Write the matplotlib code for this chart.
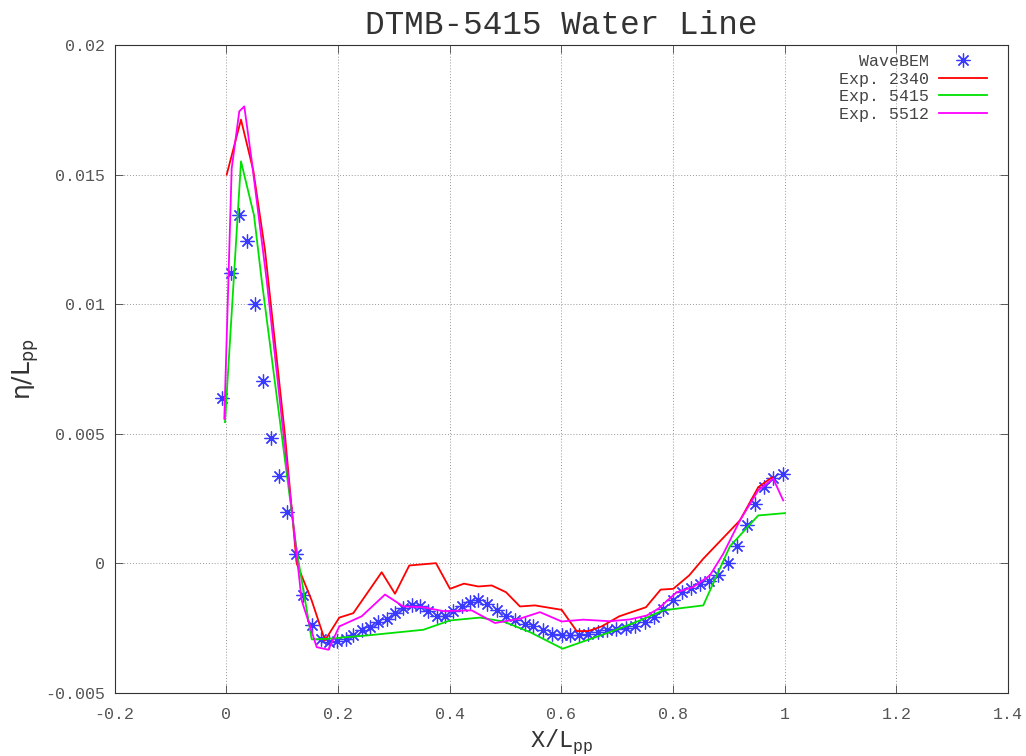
import numpy as np
import matplotlib
matplotlib.use("Agg")
import matplotlib.pyplot as plt

# WaveBEM (asterisks)
bem_x = [-0.0078, 0.0083, 0.0226, 0.0369, 0.0513, 0.0661, 0.0799, 0.0942, 0.1091, 0.1241,
         0.1378, 0.1528, 0.1689, 0.1843, 0.1986, 0.2142, 0.2273, 0.2423, 0.2572, 0.2721,
         0.2871, 0.3020, 0.3168, 0.3319, 0.3467, 0.3616, 0.3767, 0.3915, 0.4064, 0.4214,
         0.4363, 0.4511, 0.4662, 0.4841, 0.5008, 0.5169, 0.5348, 0.5496, 0.5665, 0.5826,
         0.6005, 0.6154, 0.6320, 0.6481, 0.6660, 0.6822, 0.6978, 0.7151, 0.7318, 0.7497,
         0.7658, 0.7825, 0.7993, 0.8154, 0.8315, 0.8482, 0.8648, 0.8810, 0.8989, 0.9150,
         0.9318, 0.9472, 0.9633, 0.9794, 0.9963]
bem_y = [0.00639, 0.01120, 0.01343, 0.01245, 0.01002, 0.00702, 0.00484, 0.00337, 0.00199, 0.00037,
         -0.00122, -0.00239, -0.00293, -0.00305, -0.00300, -0.00291, -0.00275, -0.00256, -0.00246, -0.00226,
         -0.00213, -0.00192, -0.00172, -0.00159, -0.00166, -0.00185, -0.00203, -0.00204, -0.00184, -0.00165,
         -0.00149, -0.00143, -0.00158, -0.00179, -0.00204, -0.00220, -0.00233, -0.00243, -0.00256, -0.00271,
         -0.00278, -0.00278, -0.00275, -0.00271, -0.00265, -0.00258, -0.00252, -0.00248, -0.00243, -0.00226,
         -0.00207, -0.00175, -0.00143, -0.00112, -0.00093, -0.00079, -0.00066, -0.00046, 0.0, 0.00066,
         0.00147, 0.00230, 0.00294, 0.00331, 0.00346]

# Exp. 2340
e2340_x = [0.0006, 0.0262, 0.0482, 0.0692, 0.1050, 0.1259, 0.1528, 0.1766, 0.2022, 0.2273,
           0.2782, 0.3020, 0.3276, 0.3754, 0.4005, 0.4255, 0.4512, 0.4752, 0.5008, 0.5258,
           0.5527, 0.6005, 0.6274, 0.6481, 0.6721, 0.7037, 0.7515, 0.7778, 0.8004, 0.8290,
           0.8541, 0.9198, 0.9526, 0.9771]
e2340_y = [0.01500, 0.01712, 0.01516, 0.01208, 0.00494, 0.0, -0.00143, -0.00297, -0.00209, -0.00192,
           -0.00034, -0.00117, -0.00008, 0.00001, -0.00098, -0.00078, -0.00089, -0.00085, -0.00111, -0.00166,
           -0.00162, -0.00179, -0.00261, -0.00261, -0.00243, -0.00204, -0.00169, -0.00101, -0.00098, -0.00046,
           0.00018, 0.00166, 0.00294, 0.00332]

# Exp. 5415
e5415_x = [-0.0025, 0.0262, 0.0495, 0.0633, 0.1259, 0.1528, 0.1797, 0.2513, 0.3527, 0.4005,
           0.4542, 0.4959, 0.5437, 0.6023, 0.6870, 0.7408, 0.7825, 0.8541, 0.9019, 0.9526,
           1.0004]
e5415_y = [0.00545, 0.01551, 0.01343, 0.01092, 0.00050, -0.00293, -0.00291, -0.00278, -0.00256, -0.00220,
           -0.00209, -0.00224, -0.00265, -0.00329, -0.00265, -0.00220, -0.00181, -0.00162, 0.00066, 0.00185,
           0.00194]

# Exp. 5512
e5512_x = [-0.0037, 0.0095, 0.0231, 0.0321, 0.0453, 0.0722, 0.1349, 0.1618, 0.1826, 0.2022,
           0.2423, 0.2841, 0.3168, 0.3527, 0.3885, 0.4393, 0.4811, 0.5258, 0.5617, 0.6005,
           0.6392, 0.6870, 0.7229, 0.7527, 0.7735, 0.8065, 0.8362, 0.8661, 0.8899, 0.9198,
           0.9526, 0.9794, 0.9973]
e5512_y = [0.00558, 0.01523, 0.01744, 0.01763, 0.01555, 0.01092, -0.00143, -0.00323, -0.00333, -0.00243,
           -0.00204, -0.00120, -0.00166, -0.00169, -0.00184, -0.00181, -0.00230, -0.00213, -0.00188, -0.00224,
           -0.00217, -0.00223, -0.00216, -0.00201, -0.00175, -0.00111, -0.00091, -0.00046, 0.00037, 0.00166,
           0.00282, 0.00327, 0.00243]

xticks = [-0.2, 0, 0.2, 0.4, 0.6, 0.8, 1, 1.2, 1.4]
xtick_labels = ["-0.2", "0", "0.2", "0.4", "0.6", "0.8", "1", "1.2", "1.4"]
yticks = [-0.005, 0, 0.005, 0.01, 0.015, 0.02]
ytick_labels = ["-0.005", "0", "0.005", "0.01", "0.015", "0.02"]

mono = "Liberation Mono"

fig = plt.figure(figsize=(10.26, 7.56), dpi=100)
ax = fig.add_axes([0.1118, 0.0833, 0.8707, 0.8572])

ax.plot(bem_x, bem_y, linestyle="none", marker=(8, 2, 0), markersize=10,
        markeredgewidth=0.9, color="#3a3aff", label="WaveBEM")
ax.plot(e2340_x, e2340_y, color="#ff0000", lw=1.3, label="Exp. 2340")
ax.plot(e5415_x, e5415_y, color="#00e000", lw=1.3, label="Exp. 5415")
ax.plot(e5512_x, e5512_y, color="#ff00ff", lw=1.3, label="Exp. 5512")

ax.set_xlim(-0.2, 1.4)
ax.set_ylim(-0.005, 0.02)
ax.set_xticks(xticks)
ax.set_xticklabels(xtick_labels, fontfamily=mono, fontsize=12, color="#555555")
ax.set_yticks(yticks)
ax.set_yticklabels(ytick_labels, fontfamily=mono, fontsize=12, color="#555555")
ax.tick_params(direction="in", length=6, width=0.6, top=True, right=True, color="#444444")
ax.tick_params(axis="x", pad=10)
ax.tick_params(axis="y", pad=7)
ax.grid(True, linestyle=(0, (1, 2)), color="#999999", linewidth=0.7)
for s in ax.spines.values():
    s.set_linewidth(0.8)
    s.set_color("#333333")

ax.set_title("DTMB-5415 Water Line", fontfamily=mono, fontsize=23.5, color="#333333", pad=8)
ax.set_xlabel(r"X/L$_{\mathregular{pp}}$", fontfamily=mono, fontsize=17, color="#333333", labelpad=4)
ax.set_ylabel(r"$\mathregular{\eta}$/L$_{\mathregular{pp}}$", fontfamily="DejaVu Sans", fontsize=18,
              color="#333333", labelpad=3)

leg = ax.legend(loc="upper right", bbox_to_anchor=(0.984, 0.996), frameon=False, markerfirst=False,
                handlelength=2.9, prop={"family": mono, "size": 12}, borderaxespad=0,
                labelspacing=0.15, handletextpad=0.6)
for t in leg.get_texts():
    t.set_ha("right")
    t.set_color("#444444")

fig.savefig("out.png", dpi=100)
